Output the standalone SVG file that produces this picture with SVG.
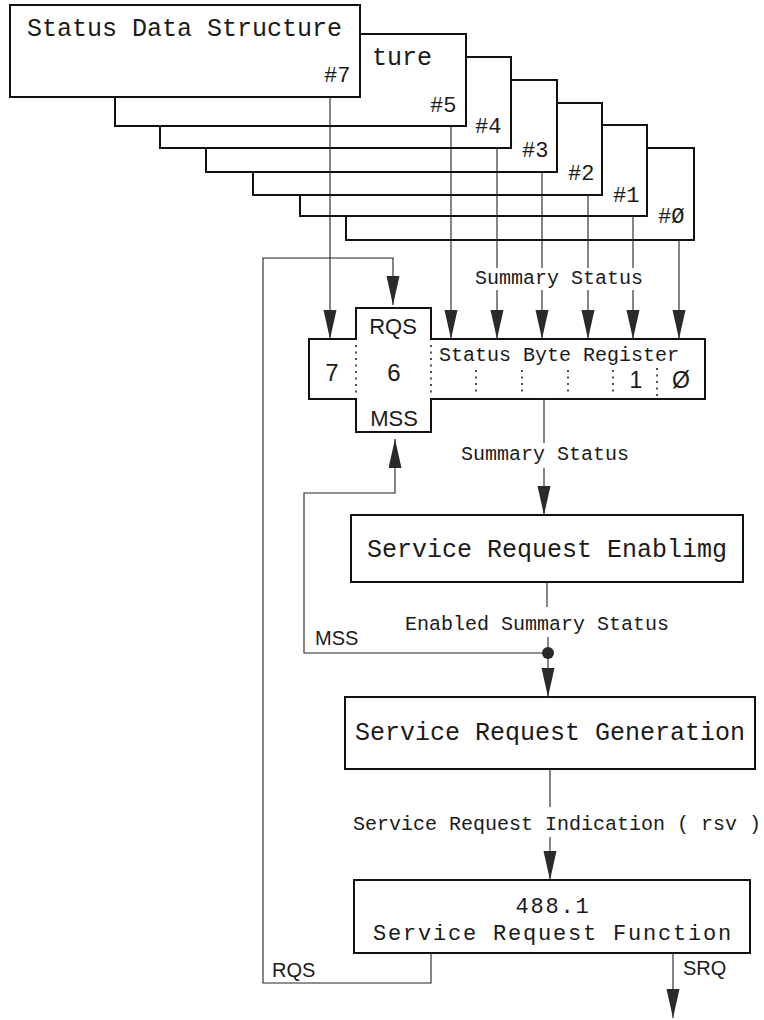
<svg xmlns="http://www.w3.org/2000/svg" width="764" height="1020" viewBox="0 0 764 1020">
<style>
.card{fill:#fff;stroke:#111;stroke-width:2}
.box{fill:#fff;stroke:#111;stroke-width:2}
.ln{fill:none;stroke:#222;stroke-width:1.1}
.arr{marker-end:url(#ah)}
.dot{fill:none;stroke:#222;stroke-width:1.6;stroke-dasharray:2 4.5}
.mono{font-family:"Liberation Mono","DejaVu Sans Mono",monospace;fill:#1a1a1a}
.big{font-size:25px}
.fn{font-size:22px;letter-spacing:1.8px}
.lbl{font-size:20px}
.num{font-size:22px}
.sans{font-family:"Liberation Sans",Arial,sans-serif;fill:#1a1a1a}
</style>
<defs>
<marker id="ah" markerUnits="userSpaceOnUse" markerWidth="30" markerHeight="14" refX="29" refY="6.5" orient="auto">
<path d="M0,0 L29,6.5 L0,13 Z" fill="#2a2a2a"/>
</marker>
</defs>
<rect width="764" height="1020" fill="#fff"/>

<g id="card0"><rect class="card" x="346" y="148" width="348" height="92"/><text class="mono num" x="658" y="223">#Ø</text></g>
<g id="card1"><rect class="card" x="300" y="125" width="347" height="91"/><text class="mono num" x="613" y="202">#1</text></g>
<g id="card2"><rect class="card" x="253" y="103" width="349" height="92"/><text class="mono num" x="568" y="180">#2</text></g>
<g id="card3"><rect class="card" x="206" y="80" width="351" height="92"/><text class="mono num" x="522" y="157">#3</text></g>
<g id="card4"><rect class="card" x="160" y="57" width="351" height="91"/><text class="mono num" x="475" y="133">#4</text></g>
<g id="card5"><rect class="card" x="115" y="34" width="351" height="92"/><text class="mono big" x="372" y="65">ture</text><text class="mono num" x="430" y="112">#5</text></g>
<g id="card7"><rect class="card" x="10" y="5" width="350" height="92"/><text class="mono big" x="27" y="36">Status Data Structure</text><text class="mono num" x="324" y="82">#7</text></g>

<g id="register">
<path class="box" d="M309,339 H356 V308 H431 V339 H705 V399 H431 V432 H356 V399 H309 Z"/>
<line class="dot" x1="356" y1="345" x2="356" y2="396"/>
<line class="dot" x1="431" y1="345" x2="431" y2="396"/>
<line class="dot" x1="476" y1="370" x2="476" y2="396"/>
<line class="dot" x1="522" y1="370" x2="522" y2="396"/>
<line class="dot" x1="568" y1="370" x2="568" y2="396"/>
<line class="dot" x1="613" y1="370" x2="613" y2="396"/>
<line class="dot" x1="657" y1="368" x2="657" y2="396"/>
<text class="sans" font-size="22" x="393" y="334" text-anchor="middle">RQS</text>
<text class="sans" font-size="22" x="394" y="426" text-anchor="middle">MSS</text>
<text class="sans" font-size="24" x="332" y="381" text-anchor="middle">7</text>
<text class="sans" font-size="24" x="394" y="381" text-anchor="middle">6</text>
<text class="sans" font-size="23" x="636" y="388" text-anchor="middle">1</text>
<text class="sans" font-size="23" x="681" y="388" text-anchor="middle">Ø</text>
<text class="mono lbl" x="439" y="361">Status Byte Register</text>
</g>

<g id="enabling"><rect class="box" x="351" y="515" width="392" height="67"/><text class="mono big" x="547" y="557" text-anchor="middle">Service Request Enablimg</text></g>
<g id="generation"><rect class="box" x="345" y="697" width="410" height="72"/><text class="mono big" x="550" y="740" text-anchor="middle">Service Request Generation</text></g>
<g id="function"><rect class="box" x="354" y="880" width="396" height="73"/><text class="mono fn" x="553" y="913" text-anchor="middle">488.1</text><text class="mono fn" x="553" y="940" text-anchor="middle">Service Request Function</text></g>

<g id="connectors">
<line class="ln arr" x1="330" y1="97" x2="330" y2="339"/>
<line class="ln arr" x1="451" y1="126" x2="451" y2="339"/>
<line class="ln" x1="497" y1="148" x2="497" y2="268"/><line class="ln arr" x1="497" y1="290" x2="497" y2="339"/>
<line class="ln" x1="542" y1="172" x2="542" y2="268"/><line class="ln arr" x1="542" y1="290" x2="542" y2="339"/>
<line class="ln" x1="588" y1="195" x2="588" y2="268"/><line class="ln arr" x1="588" y1="290" x2="588" y2="339"/>
<line class="ln" x1="633" y1="216" x2="633" y2="268"/><line class="ln arr" x1="633" y1="290" x2="633" y2="339"/>
<line class="ln arr" x1="679" y1="240" x2="679" y2="339"/>
<text class="mono lbl" x="475" y="284">Summary Status</text>

<line class="ln" x1="544" y1="399" x2="544" y2="443"/>
<text class="mono lbl" x="545" y="460" text-anchor="middle">Summary Status</text>
<line class="ln arr" x1="544" y1="468" x2="544" y2="515"/>

<line class="ln" x1="547" y1="582" x2="547" y2="607"/>
<text class="mono lbl" x="537" y="630" text-anchor="middle">Enabled Summary Status</text>
<line class="ln" x1="548" y1="637" x2="548" y2="653"/>
<circle cx="548" cy="653" r="6" fill="#2a2a2a"/>
<line class="ln arr" x1="548" y1="653" x2="548" y2="697"/>

<polyline class="ln arr" points="548,653 304,653 304,493 395,493 395,439"/>
<text class="sans" font-size="20" x="315" y="645">MSS</text>

<line class="ln" x1="550" y1="769" x2="550" y2="807"/>
<text class="mono lbl" x="353" y="830">Service Request Indication ( rsv )</text>
<line class="ln arr" x1="550" y1="837" x2="550" y2="880"/>

<polyline class="ln arr" points="431,953 431,983 263,983 263,258 393,258 393,305"/>
<text class="sans" font-size="20" x="272" y="977">RQS</text>

<line class="ln arr" x1="673" y1="953" x2="673" y2="1018"/>
<text class="sans" font-size="20" x="683" y="975">SRQ</text>
</g>
</svg>
